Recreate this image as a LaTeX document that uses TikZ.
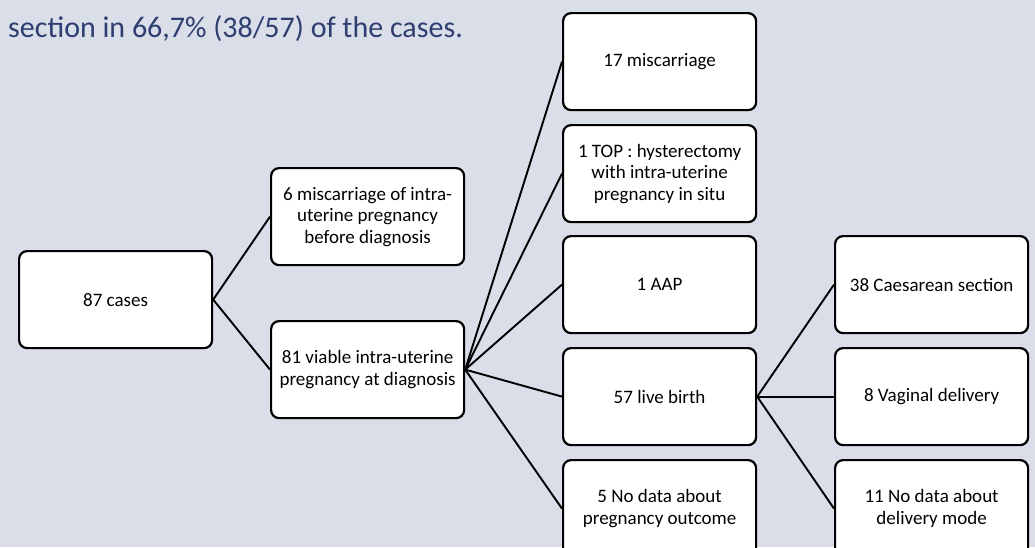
\documentclass[tikz,border=0pt]{standalone}
\usepackage{fontspec}
\setmainfont{Carlito}
\definecolor{bg}{RGB}{217,222,232}
\definecolor{titleblue}{RGB}{46,62,112}
\tikzset{
  box/.style={draw=black, line width=2.2pt, fill=white, rounded corners=8pt,
    minimum width=193pt, minimum height=97pt, align=center, inner sep=2pt,
    font=\fontsize{19}{21.5}\selectfont, anchor=north west},
  link/.style={draw=black, line width=1.9pt}
}
\begin{document}
\begin{tikzpicture}[x=1pt,y=-1pt]
\fill[bg] (0,0) rectangle (1035,547);
\useasboundingbox (0,0) rectangle (1035,547);
\clip (0,0) rectangle (1035,547);
\node[anchor=base west, text=titleblue, font=\fontsize{30}{34}\selectfont, inner sep=0pt] (title) at (8,37) {section in 66,7\% (38/57) of the cases.};
% column 1
\node[box] (c87) at (18,250) {87 cases};
% column 2
\node[box] (m6) at (270,167) {6 miscarriage of intra-\\uterine pregnancy\\before diagnosis};
\node[box] (v81) at (270,320) {81 viable intra-uterine\\pregnancy at diagnosis};
% column 3
\node[box] (m17) at (562,12) {17 miscarriage};
\node[box] (top) at (562,124) {1 TOP : hysterectomy\\with intra-uterine\\pregnancy in situ};
\node[box] (aap) at (562,235) {1 AAP};
\node[box] (lb) at (562,347) {57 live birth};
\node[box] (nd5) at (562,459) {5 No data about\\pregnancy outcome};
% column 4
\node[box] (cs) at (834,235) {38 Caesarean section};
\node[box] (vd) at (834,347) {8 Vaginal delivery};
\node[box] (nd11) at (834,459) {11 No data about\\delivery mode};
% connectors
\draw[link] (c87.east) -- (m6.west);
\draw[link] (c87.east) -- (v81.west);
\foreach \t in {m17,top,aap,lb,nd5}{\draw[link] (v81.east) -- (\t.west);}
\foreach \t in {cs,vd,nd11}{\draw[link] (lb.east) -- (\t.west);}
\end{tikzpicture}
\end{document}
